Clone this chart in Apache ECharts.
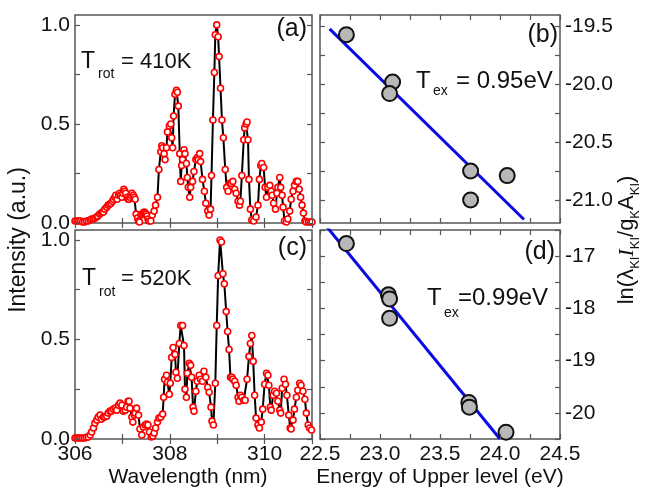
<!DOCTYPE html>
<html>
<head>
<meta charset="utf-8">
<script src="https://cdn.jsdelivr.net/npm/echarts@6/dist/echarts.min.js"></script>
<style>
html,body{margin:0;padding:0;background:#fff;}
#chart{width:646px;height:492px;}
</style>
</head>
<body>
<div id="chart"></div>
<script>
// ---------- DATA ----------
// Panel (a): spectrum, T_rot = 410K
const wlA = [306.00,306.04,306.08,306.12,306.16,306.20,306.24,306.28,306.32,306.35,306.39,306.42,306.46,306.48,306.52,306.55,306.58,306.60,306.63,306.67,306.70,306.73,306.76,306.79,306.81,306.84,306.86,306.89,306.92,306.94,306.96,306.99,307.01,307.03,307.05,307.07,307.10,307.12,307.14,307.16,307.18,307.20,307.23,307.25,307.27,307.29,307.32,307.34,307.36,307.39,307.41,307.44,307.46,307.48,307.50,307.52,307.54,307.56,307.60,307.63,307.67,307.70,307.74,307.77,307.81,307.83,307.85,307.88,307.90,307.93,307.95,307.99,308.02,308.04,308.06,308.08,308.11,308.14,308.16,308.18,308.21,308.23,308.25,308.27,308.30,308.32,308.35,308.37,308.39,308.42,308.44,308.48,308.51,308.55,308.58,308.60,308.63,308.65,308.69,308.73,308.76,308.80,308.83,308.86,308.88,308.91,308.94,308.96,308.99,309.02,309.04,309.07,309.10,309.13,309.17,309.20,309.23,309.27,309.30,309.33,309.37,309.40,309.44,309.47,309.49,309.52,309.56,309.58,309.61,309.63,309.65,309.67,309.70,309.73,309.77,309.82,309.86,309.89,309.92,309.94,309.98,310.01,310.04,310.07,310.11,310.14,310.16,310.19,310.23,310.26,310.28,310.32,310.34,310.37,310.39,310.42,310.46,310.49,310.53,310.56,310.60,310.63,310.67,310.70,310.73,310.76,310.79,310.82,310.85,310.88,310.93,310.97,311.00];
const intA = [0.01,0.01,0.01,0.01,0.005,0.005,0.01,0.01,0.015,0.02,0.02,0.025,0.03,0.035,0.045,0.05,0.055,0.055,0.07,0.08,0.09,0.095,0.10,0.11,0.12,0.13,0.14,0.12,0.14,0.15,0.14,0.13,0.15,0.17,0.16,0.15,0.13,0.12,0.12,0.13,0.14,0.15,0.14,0.13,0.12,0.045,0.025,0.01,0.005,0.04,0.045,0.05,0.055,0.05,0.045,0.035,0.02,0.01,0.01,0.04,0.06,0.09,0.13,0.27,0.36,0.39,0.38,0.35,0.32,0.38,0.46,0.49,0.50,0.43,0.38,0.54,0.65,0.67,0.66,0.59,0.35,0.21,0.29,0.32,0.37,0.35,0.30,0.23,0.18,0.13,0.18,0.21,0.26,0.32,0.33,0.32,0.35,0.31,0.22,0.16,0.10,0.06,0.04,0.07,0.24,0.52,0.76,0.95,1.00,0.94,0.84,0.68,0.52,0.43,0.27,0.18,0.16,0.20,0.20,0.21,0.17,0.15,0.11,0.09,0.11,0.24,0.42,0.48,0.50,0.51,0.42,0.22,0.07,0.015,0.01,0.03,0.09,0.22,0.29,0.30,0.28,0.18,0.13,0.18,0.19,0.16,0.14,0.10,0.07,0.15,0.18,0.23,0.18,0.14,0.08,0.01,0.005,0.02,0.06,0.12,0.16,0.19,0.21,0.21,0.17,0.13,0.09,0.05,0.01,0.005,0.005,0.005,0.005];

// Panel (c): spectrum, T_rot = 520K
const wlC = [306.00,306.04,306.08,306.12,306.16,306.20,306.24,306.28,306.32,306.35,306.39,306.42,306.46,306.49,306.53,306.56,306.60,306.63,306.67,306.70,306.74,306.77,306.81,306.85,306.88,306.92,306.95,306.99,307.02,307.06,307.09,307.12,307.14,307.16,307.20,307.22,307.25,307.27,307.30,307.34,307.37,307.41,307.44,307.48,307.51,307.54,307.57,307.61,307.64,307.67,307.70,307.74,307.77,307.81,307.85,307.87,307.89,307.93,307.95,307.99,308.01,308.04,308.07,308.11,308.13,308.16,308.20,308.23,308.27,308.30,308.32,308.35,308.37,308.41,308.44,308.46,308.49,308.51,308.55,308.58,308.62,308.65,308.69,308.72,308.76,308.80,308.83,308.87,308.89,308.92,308.96,308.99,309.02,309.06,309.09,309.12,309.15,309.19,309.22,309.25,309.28,309.31,309.33,309.37,309.40,309.44,309.46,309.49,309.52,309.56,309.59,309.63,309.67,309.70,309.73,309.76,309.79,309.82,309.86,309.89,309.93,309.96,310.00,310.04,310.07,310.09,310.12,310.14,310.18,310.21,310.25,310.28,310.32,310.34,310.37,310.41,310.44,310.47,310.51,310.54,310.56,310.60,310.63,310.67,310.70,310.74,310.77,310.81,310.85,310.88,310.92,310.95,310.99];
const intC = [0.005,0.005,0.005,0.005,0.005,0.005,0.008,0.01,0.02,0.035,0.055,0.08,0.095,0.11,0.12,0.10,0.11,0.11,0.115,0.13,0.14,0.14,0.15,0.155,0.145,0.17,0.18,0.17,0.14,0.145,0.16,0.19,0.19,0.155,0.11,0.085,0.12,0.13,0.155,0.12,0.05,0.02,0.06,0.07,0.075,0.07,0.035,0.01,0.015,0.03,0.055,0.085,0.105,0.11,0.125,0.21,0.30,0.32,0.285,0.225,0.28,0.41,0.46,0.425,0.335,0.305,0.48,0.57,0.57,0.47,0.25,0.21,0.33,0.38,0.37,0.31,0.16,0.14,0.24,0.29,0.32,0.30,0.29,0.34,0.31,0.26,0.235,0.16,0.09,0.07,0.28,0.57,0.82,1.00,0.99,0.83,0.78,0.64,0.54,0.45,0.31,0.31,0.30,0.29,0.27,0.21,0.19,0.22,0.21,0.195,0.195,0.30,0.415,0.48,0.52,0.39,0.22,0.105,0.07,0.055,0.085,0.15,0.275,0.33,0.32,0.27,0.16,0.145,0.22,0.24,0.23,0.19,0.145,0.13,0.255,0.30,0.275,0.22,0.12,0.055,0.05,0.095,0.15,0.21,0.245,0.28,0.27,0.24,0.20,0.13,0.07,0.055,0.045];

// Panel (b): Boltzmann plot
const energyB = [22.72,23.105,23.08,23.755,23.755,24.06];
const lnB     = [-19.57,-19.98,-20.08,-20.75,-21.00,-20.79];
const fitEnergyB = [22.58,24.20];
const fitLnB     = [-19.52,-21.17];

// Panel (d): Boltzmann plot
const energyD = [22.72,23.07,23.08,23.08,23.74,23.745,24.05];
const lnD     = [-16.76,-17.74,-17.82,-18.19,-19.80,-19.89,-20.37];
const fitEnergyD = [22.55,24.00];
const fitLnD     = [-16.42,-20.50];

// Tick / label values
const wlTicks  = [306,307,308,309,310,311];
const wlLabels = [306,308,310];
const intTicks  = [0,0.25,0.5,0.75,1.0];
const intLabels = [0,0.5,1.0];
const eTicks  = [22.5,22.75,23,23.25,23.5,23.75,24,24.25,24.5];
const eLabels = [22.5,23,23.5,24,24.5];
const lnBTicks  = [-21,-20.75,-20.5,-20.25,-20,-19.75,-19.5];
const lnBLabels = [-21,-20.5,-20,-19.5];
const lnDTicks  = [-20.5,-20,-19.5,-19,-18.5,-18,-17.5,-17,-16.5];
const lnDLabels = [-20,-19,-18,-17];

// ---------- CHART ----------
const FONT = 'Liberation Sans';
const FRAME = '#555';
const TXT = '#111';
const zip = (xs, ys) => xs.map((x, i) => [x, ys[i]]);

const grids = [
  {left:75,  top:15,  width:237, height:208, show:true, borderColor:FRAME, borderWidth:1.5}, // a
  {left:320, top:15,  width:240, height:208, show:true, borderColor:FRAME, borderWidth:1.5}, // b
  {left:75,  top:230, width:237, height:209, show:true, borderColor:FRAME, borderWidth:1.5}, // c
  {left:320, top:230, width:240, height:209, show:true, borderColor:FRAME, borderWidth:1.5}  // d
];

function axis(gi, pos, min, max, ticks, labels, fmt, showLabel) {
  return {
    gridIndex: gi, type: 'value', position: pos, min: min, max: max,
    axisLine: {show: false},
    splitLine: {show: false},
    axisTick: {show: true, inside: true, length: 5, customValues: ticks,
               lineStyle: {color: FRAME, width: 1.2}},
    axisLabel: {show: showLabel, customValues: labels, formatter: fmt,
                color: TXT, fontSize: 21, fontFamily: FONT, margin: 5},
    z: 5
  };
}
const fInt = v => Number(v).toFixed(0);
const f1 = v => Number(v).toFixed(1);

const xAxes = [
  axis(0,'bottom',306,311,wlTicks,wlLabels,fInt,false),
  axis(0,'top',306,311,wlTicks,wlLabels,fInt,false),
  axis(1,'bottom',22.5,24.5,eTicks,eLabels,f1,false),
  axis(1,'top',22.5,24.5,eTicks,eLabels,f1,false),
  axis(2,'bottom',306,311,wlTicks,wlLabels,fInt,true),
  axis(2,'top',306,311,wlTicks,wlLabels,fInt,false),
  axis(3,'bottom',22.5,24.5,eTicks,eLabels,f1,true),
  axis(3,'top',22.5,24.5,eTicks,eLabels,f1,false)
];
const yAxes = [
  axis(0,'left',0,1.05,intTicks,intLabels,f1,true),
  axis(0,'right',0,1.05,intTicks,intLabels,f1,false),
  axis(1,'left',-21.2,-19.4,lnBTicks,lnBLabels,f1,false),
  axis(1,'right',-21.2,-19.4,lnBTicks,lnBLabels,f1,true),
  axis(2,'left',0,1.05,intTicks,intLabels,f1,true),
  axis(2,'right',0,1.05,intTicks,intLabels,f1,false),
  axis(3,'left',-20.5,-16.5,lnDTicks,lnDLabels,fInt,false),
  axis(3,'right',-20.5,-16.5,lnDTicks,lnDLabels,fInt,true)
];

function spectrum(xi, yi, wl, inten) {
  return {
    type: 'line', xAxisIndex: xi, yAxisIndex: yi, data: zip(wl, inten),
    symbol: 'circle', symbolSize: 6, showSymbol: true, showAllSymbol: true,
    lineStyle: {color: '#000', width: 2},
    itemStyle: {color: '#fff', borderColor: '#ff0000', borderWidth: 1.6},
    clip: true, z: 3
  };
}
function fitLine(xi, yi, ex, ey) {
  return {
    type: 'line', xAxisIndex: xi, yAxisIndex: yi, data: zip(ex, ey),
    symbol: 'none', lineStyle: {color: '#0a0ae6', width: 3}, clip: true, z: 3
  };
}
function points(xi, yi, ex, ey) {
  return {
    type: 'scatter', xAxisIndex: xi, yAxisIndex: yi, data: zip(ex, ey),
    symbol: 'circle', symbolSize: 15,
    itemStyle: {color: '#b8b8b8', borderColor: '#111', borderWidth: 2, opacity: 1},
    clip: false, z: 4
  };
}

const series = [
  spectrum(0, 0, wlA, intA),
  fitLine(2, 3, fitEnergyB, fitLnB),
  points(2, 3, energyB, lnB),
  spectrum(4, 4, wlC, intC),
  fitLine(6, 7, fitEnergyD, fitLnD),
  points(6, 7, energyD, lnD)
];

function txt(x, y, text, size, align, extra) {
  return Object.assign({
    type: 'text', x: x, y: y, z: 20,
    style: {text: text, fontSize: size, fontFamily: FONT, fill: TXT,
            align: align || 'left', verticalAlign: 'middle'}
  }, extra || {});
}

const graphics = [
  // panel (a)
  txt(81, 62, 'T', 23), txt(98, 74, 'rot', 14), txt(121, 62, '= 410K', 22),
  txt(307, 29, '(a)', 25, 'right'),
  // panel (c)
  txt(82, 279, 'T', 23), txt(99, 292, 'rot', 14), txt(121, 279, '= 520K', 22),
  txt(307, 248, '(c)', 25, 'right'),
  // panel (b)
  txt(416, 81, 'T', 24), txt(433, 91, 'ex', 14), txt(456, 81, '= 0.95eV', 24),
  txt(558, 35, '(b)', 25, 'right'),
  // panel (d)
  txt(427, 298, 'T', 24), txt(444, 313, 'ex', 14), txt(458, 298, '=0.99eV', 24),
  txt(555, 252, '(d)', 25, 'right'),
  // axis names
  txt(188, 477, 'Wavelength (nm)', 21, 'center'),
  txt(440, 477, 'Energy of Upper level (eV)', 21, 'center'),
  txt(19, 240, 'Intensity (a.u.)', 23, 'center', {rotation: Math.PI / 2}),
  {
    type: 'text', x: 627, y: 240, rotation: Math.PI / 2, z: 20,
    style: {
      text: '{m|ln(λ}{s|KI}{i|I}{s|KI}{m|/g}{s|K}{m|A}{s|KI}{m|)}',
      align: 'center', verticalAlign: 'middle',
      rich: {
        m: {fontSize: 22, fontFamily: FONT, fill: TXT, lineHeight: 34, verticalAlign: 'middle'},
        i: {fontSize: 22, fontFamily: 'Liberation Serif', fontStyle: 'italic', fill: TXT, lineHeight: 34, verticalAlign: 'middle'},
        s: {fontSize: 13, fontFamily: FONT, fill: TXT, padding: [16, 0, 0, 0], verticalAlign: 'middle'}
      }
    }
  }
];

const chart = echarts.init(document.getElementById('chart'), null, {renderer: 'canvas'});
chart.setOption({
  animation: false,
  backgroundColor: '#fff',
  grid: grids,
  xAxis: xAxes,
  yAxis: yAxes,
  series: series,
  graphic: graphics
});
</script>
</body>
</html>
